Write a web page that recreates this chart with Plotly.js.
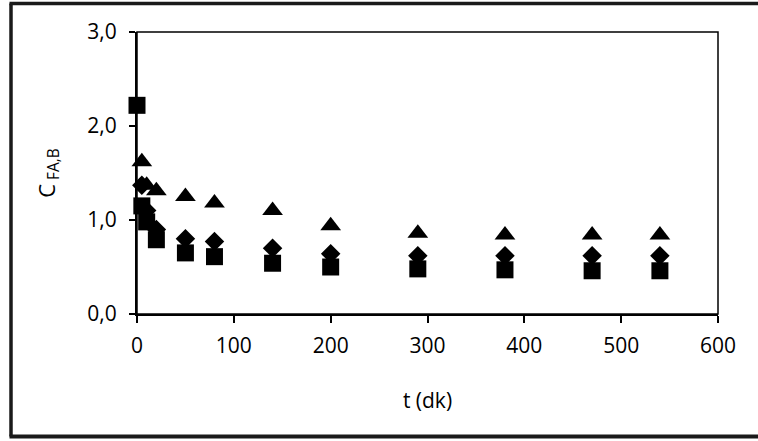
<!DOCTYPE html>
<html>
<head>
<meta charset="utf-8">
<script src="https://cdn.plot.ly/plotly-3.0.1.min.js"></script>
<style>html,body{margin:0;padding:0;background:#fff;}#chart{width:758px;height:441px;}</style>
</head>
<body>
<div id="chart"></div>
<script>
// time (dk)
const timeSquare   = [0, 5, 10, 20, 50, 80, 140, 200, 290, 380, 470, 540];
const valuesSquare = [2.22, 1.15, 0.98, 0.79, 0.65, 0.61, 0.54, 0.50, 0.48, 0.47, 0.46, 0.46];
const timeDiamond   = [5, 10, 20, 50, 80, 140, 200, 290, 380, 470, 540];
const valuesDiamond = [1.37, 1.10, 0.90, 0.80, 0.77, 0.70, 0.64, 0.62, 0.62, 0.62, 0.62];
const timeTriangle   = [5, 10, 20, 50, 80, 140, 200, 290, 380, 470, 540];
const valuesTriangle = [1.62, 1.37, 1.31, 1.25, 1.18, 1.10, 0.94, 0.86, 0.84, 0.84, 0.84];
const xTicks = [0, 100, 200, 300, 400, 500, 600];
const yTicks = [0, 1, 2, 3];

const font = 'Open Sans, Lato, sans-serif';
const L = 137, R = 718, T = 32, B = 314, W = 758, H = 441;
const pw = R - L, ph = B - T;
const px = v => (v - L) / pw;
const py = v => (B - v) / ph;

const traces = [
  {x: timeTriangle, y: valuesTriangle, type: 'scatter', mode: 'markers',
   marker: {symbol: 'triangle-up', size: 18, color: '#000'}, cliponaxis: false},
  {x: timeDiamond, y: valuesDiamond, type: 'scatter', mode: 'markers',
   marker: {symbol: 'diamond', size: 15, color: '#000'}, cliponaxis: false},
  {x: timeSquare, y: valuesSquare, type: 'scatter', mode: 'markers',
   marker: {symbol: 'square', size: 17, color: '#000'}, cliponaxis: false}
];

const layout = {
  width: W, height: H,
  margin: {l: L, r: W - R, t: T, b: H - B},
  paper_bgcolor: '#fff', plot_bgcolor: '#fff',
  showlegend: false,
  separators: ',.',
  font: {family: font, size: 21, color: '#000'},
  xaxis: {
    range: [0, 600], tickvals: xTicks, ticktext: xTicks.map(String),
    showgrid: false, zeroline: false,
    showline: true, linewidth: 2, linecolor: '#000',
    ticks: 'outside', ticklen: 7, tickwidth: 2, tickcolor: '#000',
    ticklabelstandoff: 5,
    tickfont: {family: font, size: 21, color: '#000'},
    title: {text: 't (dk)', font: {family: font, size: 21, color: '#000'}, standoff: 35}
  },
  yaxis: {
    range: [0, 3], tickvals: yTicks, ticktext: yTicks.map(v => v.toFixed(1).replace('.', ',')),
    showgrid: false, zeroline: false,
    showline: true, linewidth: 2, linecolor: '#000',
    ticks: 'outside', ticklen: 6, tickwidth: 2, tickcolor: '#000',
    ticklabelstandoff: 8,
    tickfont: {family: font, size: 21, color: '#000'},
    title: {text: 'C<sub> FA,B</sub>', font: {family: font, size: 22, color: '#000'}, standoff: 26}
  },
  shapes: [
    {type: 'rect', xref: 'paper', yref: 'paper', x0: 0, x1: 1, y0: 0, y1: 1,
     line: {color: '#000', width: 1.5}, layer: 'above'},
    {type: 'line', xref: 'paper', yref: 'paper', x0: px(11), x1: px(11), y0: py(3.5), y1: py(436.5),
     line: {color: '#1a1a1a', width: 3.5}},
    {type: 'line', xref: 'paper', yref: 'paper', x0: px(9.5), x1: px(770), y0: py(3.5), y1: py(3.5),
     line: {color: '#1a1a1a', width: 3.5}},
    {type: 'line', xref: 'paper', yref: 'paper', x0: px(9.5), x1: px(770), y0: py(436.5), y1: py(436.5),
     line: {color: '#1a1a1a', width: 4}}
  ]
};

Plotly.newPlot('chart', traces, layout, {displayModeBar: false, staticPlot: true});
</script>
</body>
</html>
